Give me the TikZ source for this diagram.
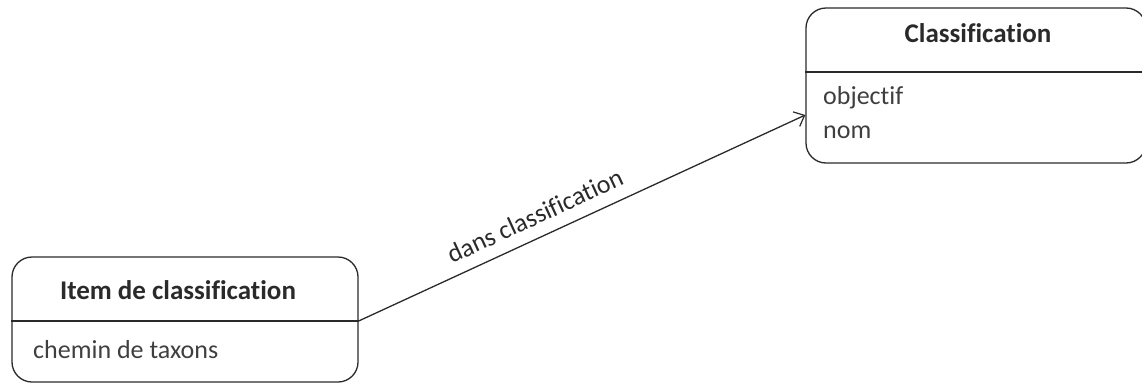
\documentclass[tikz,border=0pt]{standalone}
\usepackage{fontspec}
\setmainfont{Carlito}[Ligatures=NoCommon]
\usetikzlibrary{arrows.meta}
\definecolor{ink}{HTML}{2A2A2A}
\tikzset{
  classbox/.style={draw=ink, line width=1.3pt, rounded corners=20pt, inner sep=0pt},
  titletext/.style={font=\fontsize{27}{32}\selectfont\bfseries, text=ink, inner sep=0pt},
  attrtext/.style={font=\fontsize{26}{31}\selectfont, text=ink!90!white, inner sep=0pt, anchor=west},
  divider/.style={draw=ink, line width=1.1pt},
  assoc/.style={draw=ink, line width=1.3pt, -{Straight Barb[length=9pt,width=16pt,line width=1.2pt]}},
  assoclabel/.style={font=\fontsize{26}{31}\selectfont, text=ink, inner sep=0pt}
}
\begin{document}
\begin{tikzpicture}[x=1pt,y=-1pt]
\useasboundingbox (0,0) rectangle (1142,383);
% left class
\node[classbox, minimum width=346pt, minimum height=125pt] (item) at (185,319.5) {};
\draw[divider] (item.west |- 0,321) coordinate (itemdl) -- (item.east |- 0,321) coordinate (itemdr);
\node[titletext] (itemtitle) at (178,290) {Item de classification};
\node[attrtext] (itemattr) at (33,350) {chemin de taxons};
% right class
\node[classbox, minimum width=340pt, minimum height=155pt] (class) at (976,85.5) {};
\draw[divider] (class.west |- 0,72) coordinate (classdl) -- (class.east |- 0,72) coordinate (classdr);
\node[titletext] (classtitle) at (978,33) {Classification};
\node[attrtext] (attr1) at (823,98) {objectif};
\node[attrtext] (attr2) at (823,132) {nom};
% association
\coordinate (target) at (class.west |- 0,115);
\draw[assoc] (itemdr) -- node[assoclabel, sloped, pos=0.415, above=12pt] (lbl) {dans classification} (target);
\end{tikzpicture}
\end{document}
